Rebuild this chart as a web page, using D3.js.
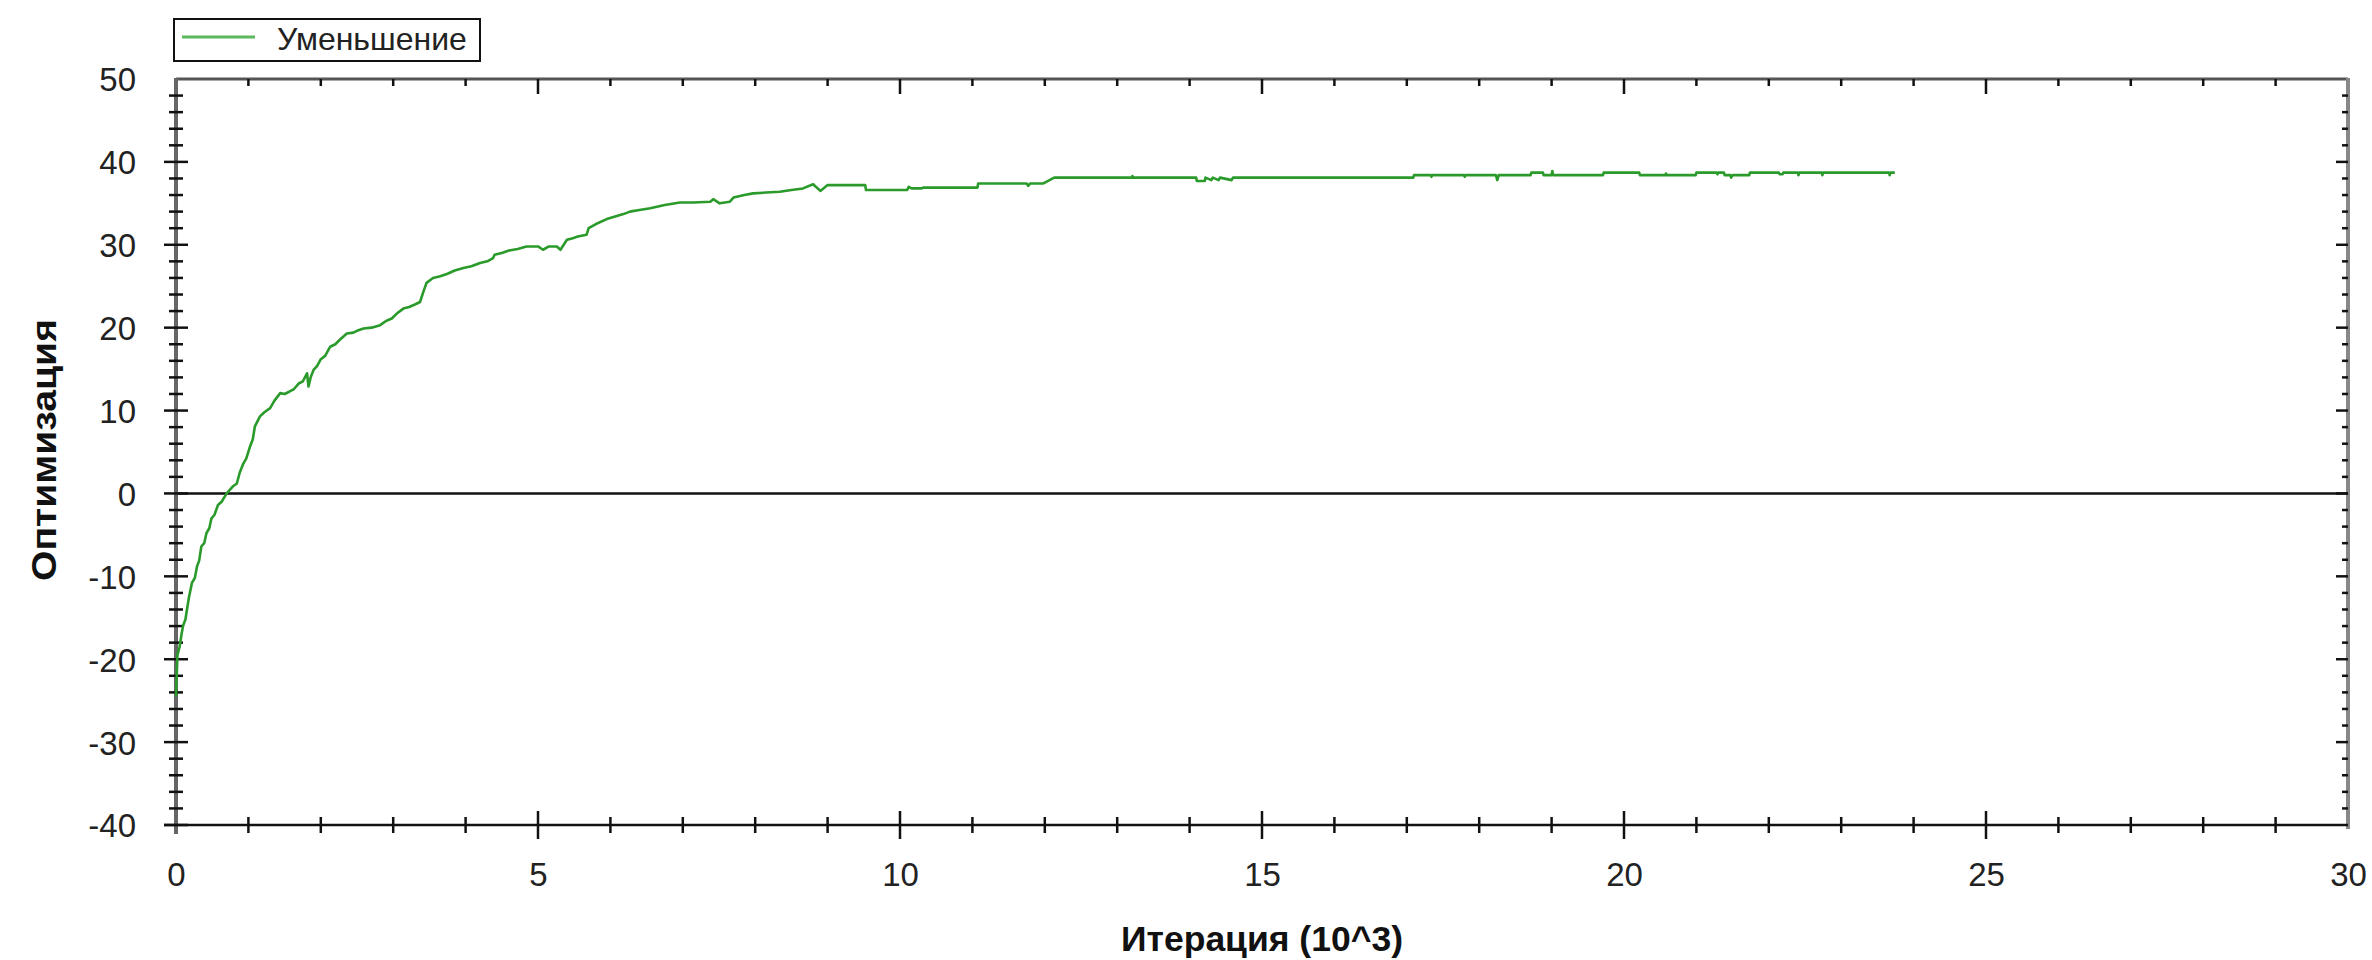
<!DOCTYPE html>
<html>
<head>
<meta charset="utf-8">
<script src="https://cdn.jsdelivr.net/npm/d3@7"></script>
<style>
  html, body { margin: 0; padding: 0; background: #ffffff; }
  svg { display: block; }
  text { font-family: "Liberation Sans", Arial, sans-serif; }
</style>
</head>
<body>
<svg id="chart" width="2372" height="960"></svg>
<script>
// ---- data (iteration in thousands, optimization value) ----
const iterations = [
  0.00, 0.01, 0.02, 0.05, 0.08, 0.10, 0.13, 0.15, 0.18, 0.22,
  0.26, 0.29, 0.32, 0.35, 0.39, 0.42, 0.46, 0.49, 0.53, 0.58,
  0.63, 0.70, 0.74, 0.78, 0.84, 0.88, 0.93, 0.97, 1.02, 1.06,
  1.09, 1.16, 1.22, 1.30, 1.36, 1.44, 1.50, 1.57, 1.63, 1.70,
  1.75, 1.81, 1.83, 1.86, 1.90, 1.95, 2.00, 2.06, 2.13, 2.20,
  2.27, 2.36, 2.45, 2.52, 2.59, 2.70, 2.82, 2.90, 2.98, 3.05,
  3.14, 3.22, 3.30, 3.37, 3.42, 3.46, 3.55, 3.65, 3.75, 3.85,
  3.97, 4.08, 4.20, 4.30, 4.38, 4.40, 4.50, 4.60, 4.72, 4.84,
  5.00, 5.07, 5.15, 5.26, 5.31, 5.40, 5.48, 5.55, 5.67, 5.70,
  5.80, 5.95, 6.10, 6.18, 6.27, 6.40, 6.55, 6.75, 6.96, 7.15,
  7.38, 7.42, 7.51, 7.65, 7.70, 7.85, 7.97, 8.15, 8.34, 8.50,
  8.66, 8.80, 8.90, 9.00, 9.52, 9.53, 10.10, 10.12, 10.16, 10.30,
  10.32, 11.07, 11.08, 11.75, 11.77, 11.80, 11.98, 12.02, 12.13, 13.20,
  13.21, 13.22, 14.09, 14.10, 14.21, 14.22, 14.30, 14.32, 14.40, 14.42,
  14.58, 14.60, 17.09, 17.10, 17.33, 17.34, 17.35, 17.79, 17.80, 17.81,
  18.23, 18.25, 18.27, 18.71, 18.72, 18.88, 18.89, 19.00, 19.01, 19.02,
  19.71, 19.72, 20.21, 20.22, 20.57, 20.58, 20.59, 20.99, 21.00, 21.28,
  21.29, 21.30, 21.38, 21.39, 21.47, 21.48, 21.50, 21.73, 21.74, 22.14,
  22.15, 22.19, 22.20, 22.40, 22.41, 22.42, 22.73, 22.74, 22.75, 23.66,
  23.67, 23.68, 23.74
];
const optimization = [
  -24.5, -22.0, -19.5, -18.5, -16.8, -15.9, -15.2, -14.1, -12.5, -10.8,
  -10.2, -8.8, -8.1, -6.4, -6.0, -4.8, -4.2, -3.0, -2.6, -1.4,
  -1.0, 0.0, 0.4, 0.8, 1.2, 2.5, 3.6, 4.2, 5.6, 6.5,
  8.1, 9.3, 9.8, 10.3, 11.2, 12.1, 12.0, 12.3, 12.6, 13.3,
  13.5, 14.5, 12.9, 14.0, 14.9, 15.4, 16.2, 16.6, 17.7, 18.0,
  18.6, 19.3, 19.4, 19.7, 19.9, 20.0, 20.3, 20.8, 21.1, 21.7,
  22.3, 22.5, 22.8, 23.1, 24.4, 25.4, 26.0, 26.2, 26.5, 26.9,
  27.2, 27.4, 27.8, 28.0, 28.4, 28.8, 29.0, 29.3, 29.5, 29.8,
  29.8, 29.4, 29.8, 29.8, 29.4, 30.6, 30.8, 31.0, 31.2, 32.0,
  32.5, 33.1, 33.5, 33.7, 34.0, 34.2, 34.4, 34.8, 35.1, 35.1,
  35.2, 35.5, 35.0, 35.2, 35.7, 36.0, 36.2, 36.3, 36.4, 36.6,
  36.8, 37.3, 36.5, 37.2, 37.2, 36.6, 36.6, 37.0, 36.8, 36.8,
  36.9, 36.9, 37.4, 37.4, 37.1, 37.4, 37.4, 37.6, 38.1, 38.1,
  38.3, 38.1, 38.1, 37.7, 37.7, 38.1, 37.8, 38.1, 37.8, 38.1,
  37.8, 38.1, 38.1, 38.4, 38.4, 38.2, 38.4, 38.4, 38.2, 38.4,
  38.4, 37.8, 38.4, 38.4, 38.7, 38.7, 38.4, 38.4, 38.9, 38.4,
  38.4, 38.7, 38.7, 38.4, 38.4, 38.6, 38.4, 38.4, 38.7, 38.7,
  38.5, 38.7, 38.7, 38.4, 38.4, 38.1, 38.4, 38.4, 38.7, 38.7,
  38.5, 38.5, 38.7, 38.7, 38.4, 38.7, 38.7, 38.4, 38.7, 38.7,
  38.4, 38.7, 38.7
];
const xTickLabels = [0, 5, 10, 15, 20, 25, 30];
const yTickLabels = [-40, -30, -20, -10, 0, 10, 20, 30, 40, 50];
const seriesName = "Уменьшение";
const xTitle = "Итерация (10^3)";
const yTitle = "Оптимизация";

// ---- layout ----
const svg = d3.select("#chart");
const x = d3.scaleLinear().domain([0, 30]).range([176, 2348]);
const y = d3.scaleLinear().domain([-40, 50]).range([825, 79]);
const tickColor = "#111";
const fmt = d => String(d);

const xMinor = d3.range(0, 30.001, 1);
const yMinor = d3.range(-40, 50.001, 2);

// frame: top & right
svg.append("line").attr("x1", x(0)).attr("x2", x(30)).attr("y1", y(50)).attr("y2", y(50))
  .attr("stroke", "#555").attr("stroke-width", 3);
svg.append("line").attr("x1", x(30)).attr("x2", x(30)).attr("y1", y(50) - 1).attr("y2", y(-40) + 4)
  .attr("stroke", "#888").attr("stroke-width", 4);

// top ticks (inward)
svg.append("g").selectAll("line").data(xMinor.filter(v => v > 0 && v < 30)).join("line")
  .attr("x1", d => x(d)).attr("x2", d => x(d))
  .attr("y1", y(50)).attr("y2", d => y(50) + (d % 5 === 0 ? 15 : 7))
  .attr("stroke", tickColor).attr("stroke-width", 2.5);

// right ticks (inward)
svg.append("g").selectAll("line").data(yMinor.filter(v => v > -40 && v < 50)).join("line")
  .attr("x1", x(30)).attr("x2", d => x(30) - (d % 10 === 0 ? 12 : 6))
  .attr("y1", d => y(d)).attr("y2", d => y(d))
  .attr("stroke", tickColor).attr("stroke-width", 2.5);

// zero line
svg.append("line").attr("x1", x(0)).attr("x2", x(30)).attr("y1", y(0)).attr("y2", y(0))
  .attr("stroke", "#111").attr("stroke-width", 2.5);

// left axis line
svg.append("line").attr("x1", x(0)).attr("x2", x(0)).attr("y1", y(50) - 1).attr("y2", y(-40) + 9)
  .attr("stroke", "#666").attr("stroke-width", 4);
// left ticks (crossing)
svg.append("g").selectAll("line").data(yMinor.filter(v => v < 50)).join("line")
  .attr("x1", d => x(0) - (d % 10 === 0 ? 12 : 7)).attr("x2", d => x(0) + (d % 10 === 0 ? 12 : 7))
  .attr("y1", d => y(d)).attr("y2", d => y(d))
  .attr("stroke", tickColor).attr("stroke-width", 2.5);

// bottom axis line
svg.append("line").attr("x1", x(0) - 12).attr("x2", x(30)).attr("y1", y(-40)).attr("y2", y(-40))
  .attr("stroke", "#111").attr("stroke-width", 2.5);
svg.append("g").selectAll("line").data(xMinor.filter(v => v > 0 && v < 30)).join("line")
  .attr("x1", d => x(d)).attr("x2", d => x(d))
  .attr("y1", d => y(-40) - (d % 5 === 0 ? 14 : 8)).attr("y2", d => y(-40) + (d % 5 === 0 ? 14 : 8))
  .attr("stroke", tickColor).attr("stroke-width", 2.5);

// curve (drawn above axes)
const pts = iterations.map((v, i) => [v, optimization[i]]);
svg.append("path").datum(pts)
  .attr("fill", "none").attr("stroke", "#2a9a2a").attr("stroke-width", 2.6)
  .attr("stroke-linejoin", "round")
  .attr("d", d3.line().x(d => x(d[0])).y(d => y(d[1])));

// tick labels via d3 axes
const xAxis = d3.axisBottom(x).tickValues(xTickLabels).tickFormat(fmt).tickSize(0).tickPadding(0);
const gx = svg.append("g").attr("transform", `translate(0, ${y(-40)})`).call(xAxis);
gx.select(".domain").remove();
gx.selectAll("text").attr("y", 61).attr("dy", null)
  .attr("font-size", 33).attr("font-family", '"Liberation Sans", Arial, sans-serif').attr("fill", "#222");

const yAxis = d3.axisLeft(y).tickValues(yTickLabels).tickFormat(fmt).tickSize(0).tickPadding(0);
const gy = svg.append("g").attr("transform", `translate(${x(0)}, 0)`).call(yAxis);
gy.select(".domain").remove();
gy.selectAll("text").attr("x", -40).attr("dy", "0.36em")
  .attr("font-size", 33).attr("font-family", '"Liberation Sans", Arial, sans-serif').attr("fill", "#222");

// axis titles
svg.append("text").attr("x", 1262).attr("y", 951).attr("text-anchor", "middle")
  .attr("font-size", 35.5).attr("font-weight", "bold").attr("fill", "#111").text(xTitle);
svg.append("text").attr("transform", "translate(56, 450) rotate(-90)").attr("text-anchor", "middle")
  .attr("font-size", 35).attr("font-weight", "bold").attr("fill", "#111")
  .attr("textLength", 262).attr("lengthAdjust", "spacingAndGlyphs").text(yTitle);

// legend
const lg = svg.append("g");
lg.append("rect").attr("x", 174).attr("y", 19).attr("width", 306).attr("height", 42)
  .attr("fill", "#fff").attr("stroke", "#111").attr("stroke-width", 2);
lg.append("line").attr("x1", 182).attr("x2", 255).attr("y1", 37).attr("y2", 37)
  .attr("stroke", "#5cb85c").attr("stroke-width", 3);
lg.append("text").attr("x", 277).attr("y", 50).attr("font-size", 32).attr("fill", "#222").text(seriesName);
</script>
</body>
</html>
